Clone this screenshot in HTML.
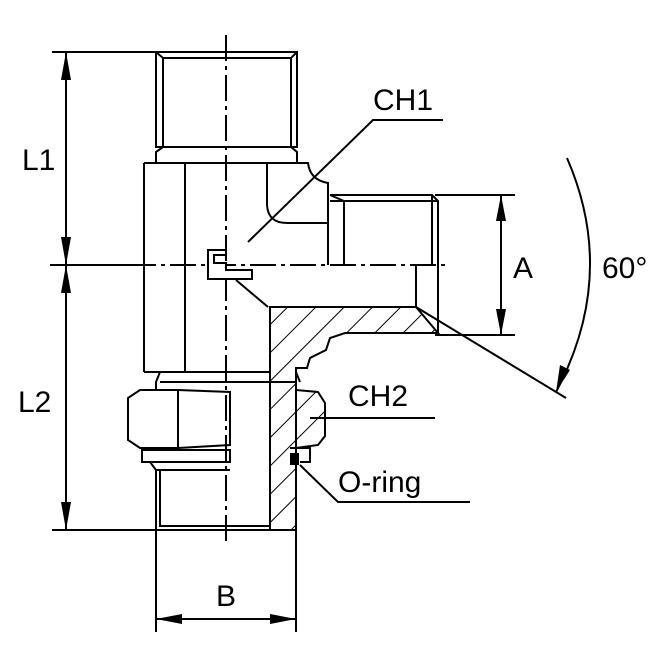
<!DOCTYPE html>
<html><head><style>html,body{margin:0;padding:0;background:#fff}svg{display:block}</style></head><body>
<svg width="670" height="670" viewBox="0 0 670 670" xmlns="http://www.w3.org/2000/svg">
<defs>
<pattern id="h" patternUnits="userSpaceOnUse" width="20" height="20" patternTransform="rotate(45)">
<line x1="0" y1="0" x2="0" y2="20" stroke="#000" stroke-width="2"/></pattern>
</defs>
<g fill="none" stroke="#000" stroke-width="2">
<!-- hatched section -->
<path d="M270 307 H416 L438 333 H345 L330 338 L326 350 L310 358 L307 368 H296 V530 H270 Z" fill="url(#h)"/>
<path d="M296 390 L318 392 L325 403 V436 L318 445 L296 448 Z" fill="url(#h)"/>
<!-- top stub -->
<rect x="156" y="52" width="141" height="95"/>
<path d="M163 58 H291 M163 58 V147 M291 58 V147 M156 52 L163 58 M297 52 L291 58"/>
<path d="M163 147 L156 152 V163 M291 147 L297 152 V163"/>
<!-- body -->
<path d="M144 163 H308 Q310 180 328 183 V265"/>
<line x1="144" y1="163" x2="144" y2="372"/>
<line x1="185" y1="163" x2="185" y2="372"/>
<path d="M267 163 V205 Q268 223 287 223 H328"/>
<path d="M236 280 L268 307"/>
<line x1="144" y1="372" x2="270" y2="372"/>
<!-- side stub -->
<path d="M330 195 H432 L438 201 V333"/>
<path d="M330 201 H438 M344 201 V265 M432 195 V265"/>
<path d="M330 195 L344 201"/>
<line x1="416" y1="265" x2="416" y2="307"/>
<!-- lower: nut -->
<path d="M160 372 L156 382 V390 M296 372 L300 382"/>
<path d="M160 382 H296 V390"/>
<path d="M128 398 L140 390 H178 L230 392 V445 L178 448 H140 L128 440 Z"/>
<line x1="178" y1="390" x2="178" y2="448"/>
<path d="M142 450 H230 V462 H142 Z"/>
<path d="M150 462 L156 470 V530 H296 M156 470 H230 M160 470 V526 H270"/>
<!-- o-ring -->
<path d="M290 448 H310 V462 H300"/>
<rect x="290" y="453" width="9" height="12" fill="#000" stroke="none"/>
<!-- centerlines -->
<path d="M226 35 V545" stroke-dasharray="26 5 4 5"/>
<path d="M50 265 H450" stroke-dasharray="26 5 4 5"/>
<!-- CH1 marker -->
<path d="M208 250 H226 V255 H214 V263 H226 V270 H252 V279 H208 Z" fill="#fff"/>
<!-- leaders -->
<path d="M248 242 L373 120 H443"/>
<path d="M310 418 H435"/>
<path d="M300 465 L338 502 H470"/>
<!-- L dims -->
<path d="M52 52 H156 M52 265 H140 M52 530 H156"/>
<path d="M66 52 V530"/>
<!-- B -->
<path d="M156 470 V632 M296 470 V632 M156 619 H296"/>
<!-- A -->
<path d="M435 195 H515 M435 335 H515 M501 195 V335"/>
<!-- 60 -->
<path d="M416 307 L566 398"/>
<path d="M567 158 Q618 275 556 392"/>
</g>
<g fill="#000">
<path d="M66 52 L61 80 H71 Z M66 265 L61 237 H71 Z M66 265 L61 293 H71 Z M66 530 L61 502 H71 Z"/>
<path d="M156 619 L182 614 V624 Z M296 619 L270 614 V624 Z"/>
<path d="M501 195 L496 221 H506 Z M501 335 L496 309 H506 Z"/>
<path d="M556 392 L560 365 L570 370 Z"/>
</g>
<g font-family="Liberation Sans, sans-serif" font-size="30" fill="#000">
<text x="22" y="170">L1</text>
<text x="18" y="412">L2</text>
<text x="216" y="606">B</text>
<text x="513" y="278">A</text>
<text x="602" y="278">60°</text>
<text x="373" y="110">CH1</text>
<text x="348" y="406">CH2</text>
<text x="338" y="492">O-ring</text>
</g>
</svg>
</body></html>
